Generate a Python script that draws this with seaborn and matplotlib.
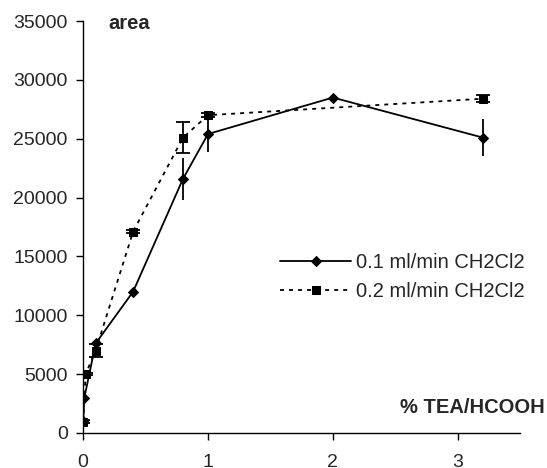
import matplotlib
matplotlib.use("Agg")
import matplotlib.pyplot as plt
import seaborn as sns
import pandas as pd

sns.set_theme(style="white")
plt.rcParams['font.family'] = ['Liberation Sans', 'DejaVu Sans']

# Data
x1 = [0.0, 0.01, 0.1, 0.4, 0.8, 1.0, 2.0, 3.2]
y1 = [1000, 3000, 7600, 12000, 21600, 25400, 28500, 25100]
e1 = [0, 0, 0, 0, 1800, 1500, 0, 1600]

x2 = [0.0, 0.02, 0.1, 0.4, 0.8, 1.0, 3.2]
y2 = [950, 5000, 7000, 17100, 25100, 27000, 28400]
e2 = [120, 120, 550, 150, 1300, 150, 300]

label1 = "0.1 ml/min CH2Cl2"
label2 = "0.2 ml/min CH2Cl2"

df = pd.concat([
    pd.DataFrame({"x": x1, "y": y1, "series": label1}),
    pd.DataFrame({"x": x2, "y": y2, "series": label2}),
])

fig = plt.figure(figsize=(5.47, 4.68), dpi=100)
ax = fig.add_axes([0.152, 0.075, 0.799, 0.880])

ax.errorbar(x1, y1, yerr=e1, fmt="none", ecolor="black", elinewidth=1.3, capsize=0, zorder=2)
ax.errorbar(x2, y2, yerr=e2, fmt="none", ecolor="black", elinewidth=1.3, capsize=5, capthick=1.3, zorder=2)

sns.lineplot(data=df, x="x", y="y", hue="series", style="series",
             palette=["black", "black"],
             markers={label1: "D", label2: "s"},
             dashes={label1: "", label2: (2.2, 2.8)},
             sort=False, errorbar=None, ax=ax, linewidth=1.3,
             markersize=6, markeredgecolor="black", zorder=3)
for line in ax.get_lines():
    if line.get_marker() == "D":
        line.set_markersize(5)

ax.set_xlim(0, 3.5)
ax.set_ylim(0, 35000)
ax.set_xticks([0, 1, 2, 3])
ax.set_yticks(range(0, 35001, 5000))
ax.set_xlabel("")
ax.set_ylabel("")
for s in ["top", "right"]:
    ax.spines[s].set_visible(False)
for s in ["left", "bottom"]:
    ax.spines[s].set_color("black")
    ax.spines[s].set_linewidth(1.0)
ax.tick_params(axis="y", direction="out", length=5, width=1, color="black",
               labelsize=14, pad=6, left=True)
ax.tick_params(axis="x", direction="out", length=5, width=1, color="black",
               labelsize=14, pad=10, bottom=True)

ax.text(0.057, 0.995, "area", transform=ax.transAxes, fontsize=14.5,
        fontweight="bold", va="center", ha="left")
ax.text(1.057, 0.061, "% TEA/HCOOH", transform=ax.transAxes, fontsize=14.5,
        fontweight="bold", va="center", ha="right", clip_on=False)

leg = ax.legend(loc="center left", bbox_to_anchor=(0.41, 0.379), frameon=False,
                fontsize=14.5, handlelength=3.5, handletextpad=0.27, labelspacing=0.5,
                title=None)
for h in leg.get_lines():
    if h.get_marker() == "D":
        h.set_markersize(5)

fig.savefig("out.png", dpi=100)
